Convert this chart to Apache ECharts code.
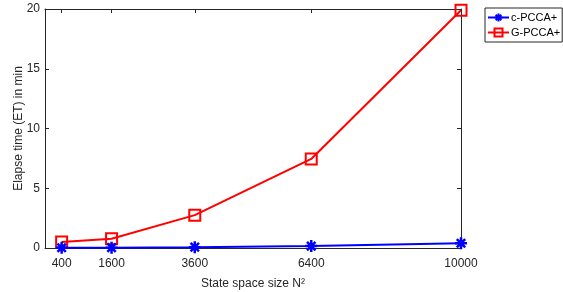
<!DOCTYPE html>
<html>
<head>
<meta charset="utf-8">
<script src="https://cdn.jsdelivr.net/npm/echarts@6/dist/echarts.min.js"></script>
<style>
  html, body { margin: 0; padding: 0; background: #fff; }
  #chart { width: 563px; height: 292px; }
</style>
</head>
<body>
<div id="chart"></div>
<script>
var stateSizes = [400, 1600, 3600, 6400, 10000];
var cPcca = [0.02, 0.03, 0.07, 0.16, 0.40];
var gPcca = [0.50, 0.78, 2.75, 7.45, 19.9];
var yTicks = [0, 5, 10, 15, 20];

function pairs(xs, ys) {
    var out = [];
    for (var i = 0; i < xs.length; i++) out.push([xs[i], ys[i]]);
    return out;
}

var starPath = 'path://M0,-10L0,10M-10,0L10,0M-7,-7L7,7M-7,7L7,-7';
var axisCol = '#262626';
var font = 'Liberation Sans, Arial, sans-serif';

var myChart = echarts.init(document.getElementById('chart'));

// plain number labels, no thousands separator
function plain(v) { return String(v); }

var option = {
    animation: false,
    textStyle: { fontFamily: font },
    grid: { left: 45, right: 102, top: 9, bottom: 44, outerBoundsMode: 'none', containLabel: false },
    legend: {
        orient: 'vertical',
        left: 485,
        top: 8,
        padding: [4, 2, 4, 2],
        itemGap: 4,
        itemWidth: 21,
        itemHeight: 10,
        borderColor: axisCol,
        borderWidth: 1,
        textStyle: { color: '#000', fontSize: 11, fontFamily: font, padding: [0, 0, 0, -3] },
        data: [
            { name: 'c-PCCA+', itemStyle: { color: '#0000ff', borderColor: '#0000ff' } },
            { name: 'G-PCCA+' }
        ]
    },
    xAxis: [{
        type: 'value',
        min: 0,
        max: 10000,
        name: 'State space size N²',
        nameLocation: 'middle',
        nameGap: 30,
        nameTextStyle: { color: axisCol, fontSize: 12 },
        axisLine: { show: true, onZero: false, lineStyle: { color: axisCol, width: 1 } },
        axisTick: { show: true, inside: true, length: 4, customValues: stateSizes, lineStyle: { color: axisCol } },
        axisLabel: { color: axisCol, fontSize: 12, customValues: stateSizes, margin: 10, formatter: plain },
        splitLine: { show: false }
    }, {
        type: 'value',
        position: 'top',
        min: 0,
        max: 10000,
        axisLine: { show: true, onZero: false, lineStyle: { color: axisCol, width: 1 } },
        axisTick: { show: true, inside: true, length: 4, customValues: stateSizes, lineStyle: { color: axisCol } },
        axisLabel: { show: false },
        splitLine: { show: false }
    }],
    yAxis: [{
        type: 'value',
        min: 0,
        max: 20,
        interval: 5,
        name: 'Elapse time (ET) in min',
        nameLocation: 'middle',
        nameGap: 20,
        nameMoveOverlap: false,
        nameTextStyle: { color: axisCol, fontSize: 12 },
        axisLine: { show: true, onZero: false, lineStyle: { color: axisCol, width: 1 } },
        axisTick: { show: true, inside: true, length: 4, lineStyle: { color: axisCol } },
        axisLabel: { color: axisCol, fontSize: 12, margin: 5, customValues: yTicks },
        splitLine: { show: false }
    }, {
        type: 'value',
        position: 'right',
        min: 0,
        max: 20,
        interval: 5,
        axisLine: { show: true, onZero: false, lineStyle: { color: axisCol, width: 1 } },
        axisTick: { show: true, inside: true, length: 4, lineStyle: { color: axisCol } },
        axisLabel: { show: false },
        splitLine: { show: false }
    }],
    series: [{
        name: 'c-PCCA+',
        type: 'line',
        data: pairs(stateSizes, cPcca),
        symbol: starPath,
        symbolSize: 12,
        showAllSymbol: true,
        lineStyle: { color: '#0000ff', width: 2 },
        itemStyle: { color: 'rgba(0,0,0,0)', borderColor: '#0000ff', borderWidth: 2.5 },
        z: 3
    }, {
        name: 'G-PCCA+',
        type: 'line',
        data: pairs(stateSizes, gPcca),
        symbol: 'rect',
        symbolSize: 11,
        showAllSymbol: true,
        lineStyle: { color: '#ff0000', width: 2 },
        itemStyle: { color: 'rgba(0,0,0,0)', borderColor: '#ff0000', borderWidth: 2 },
        z: 2
    }]
};

myChart.setOption(option);
window.addEventListener('resize', function () {
    myChart.resize();
});
</script>
</body>
</html>
